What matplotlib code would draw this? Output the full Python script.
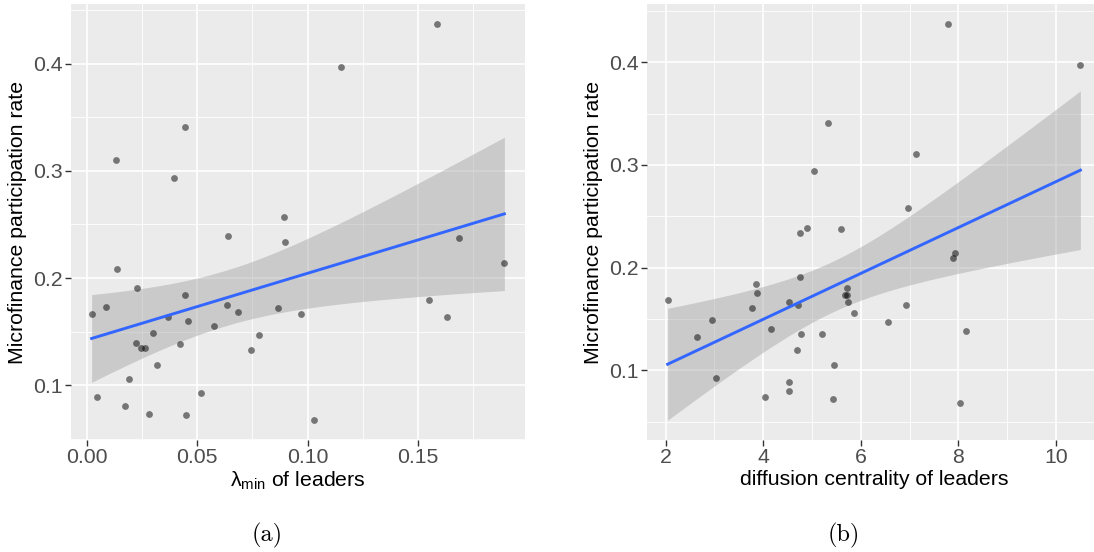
import numpy as np
from matplotlib import pyplot as plt
from matplotlib.ticker import MultipleLocator

plt.rcParams["font.family"] = ["Liberation Sans", "DejaVu Sans"]
plt.rcParams["mathtext.fontset"] = "custom"
plt.rcParams["mathtext.rm"] = "Liberation Sans"
plt.rcParams["mathtext.it"] = "Liberation Sans"

# participation rate per village
rate_a = [0.3103, 0.3407, 0.2936, 0.2389, 0.4371, 0.3970, 0.2572, 0.2336, 0.2370,
          0.1662, 0.0888, 0.1733, 0.2088, 0.0804, 0.1056, 0.1911, 0.1398, 0.1348,
          0.1348, 0.0736, 0.1491, 0.1189, 0.1637, 0.1382, 0.1842, 0.0720, 0.1603,
          0.0925, 0.1553, 0.1748, 0.1680, 0.1326, 0.1466, 0.1724, 0.1662, 0.0674,
          0.1799, 0.1634, 0.2137]
lambda_min = [0.0132, 0.0445, 0.0395, 0.0640, 0.1587, 0.1152, 0.0895, 0.0896, 0.1688,
              0.0021, 0.0045, 0.0085, 0.0134, 0.0173, 0.0191, 0.0226, 0.0224, 0.0243,
              0.0263, 0.0280, 0.0297, 0.0318, 0.0365, 0.0421, 0.0442, 0.0450, 0.0456,
              0.0516, 0.0574, 0.0636, 0.0686, 0.0745, 0.0781, 0.0866, 0.0969, 0.1030,
              0.1550, 0.1630, 0.1892]

rate_b = [0.3410, 0.2939, 0.2340, 0.2388, 0.2372, 0.4373, 0.3970, 0.3108, 0.2576,
          0.2141, 0.2096, 0.1684, 0.1328, 0.1493, 0.0929, 0.1843, 0.1752, 0.1606,
          0.1399, 0.0740, 0.1664, 0.1639, 0.1914, 0.1350, 0.1195, 0.0890, 0.0805,
          0.1353, 0.1058, 0.0721, 0.1804, 0.1732, 0.1732, 0.1664, 0.1557, 0.1470,
          0.1635, 0.1386, 0.0679]
diffusion = [5.333, 5.039, 4.752, 4.895, 5.587, 7.791, 10.501, 7.140, 6.975,
             7.934, 7.887, 2.041, 2.651, 2.945, 3.041, 3.862, 3.875, 3.780,
             4.156, 4.039, 4.526, 4.704, 4.758, 4.778, 4.696, 4.526, 4.520,
             5.209, 5.456, 5.429, 5.710, 5.676, 5.710, 5.737, 5.854, 6.559,
             6.922, 8.160, 8.043]

T_975 = 2.0262  # t quantile, 37 dof


def lm_band(x, y, grid):
    x = np.asarray(x)
    y = np.asarray(y)
    b, a = np.polyfit(x, y, 1)
    n = len(x)
    s = np.sqrt(np.sum((y - (a + b * x)) ** 2) / (n - 2))
    se = s * np.sqrt(1 / n + (grid - x.mean()) ** 2 / np.sum((x - x.mean()) ** 2))
    fit = a + b * grid
    return fit, fit - T_975 * se, fit + T_975 * se


def panel(ax, x, y, xlabel, xmaj, xmin_step):
    grid = np.linspace(min(x), max(x), 80)
    fit, lo, hi = lm_band(x, y, grid)
    ax.set_facecolor("#EBEBEB")
    ax.fill_between(grid, lo, hi, color="#999999", alpha=0.4, lw=0, zorder=2)
    ax.scatter(x, y, s=24, color="black", alpha=0.5, lw=0, zorder=3)
    ax.plot(grid, fit, color="#3366FF", lw=2.1, zorder=4)

    xr = max(x) - min(x)
    ax.set_xlim(min(x) - 0.05 * xr, max(x) + 0.05 * xr)
    ylo = min(min(y), lo.min())
    yhi = max(max(y), hi.max())
    yr = yhi - ylo
    ax.set_ylim(ylo - 0.05 * yr, yhi + 0.05 * yr)

    ax.xaxis.set_major_locator(MultipleLocator(xmaj))
    ax.xaxis.set_minor_locator(MultipleLocator(xmin_step))
    ax.yaxis.set_major_locator(MultipleLocator(0.1))
    ax.yaxis.set_minor_locator(MultipleLocator(0.05))
    ax.grid(which="major", color="white", lw=1.2, zorder=1)
    ax.grid(which="minor", color="white", lw=0.6, zorder=1)
    ax.set_axisbelow(True)
    for sp in ax.spines.values():
        sp.set_visible(False)
    ax.tick_params(which="major", length=4, width=1, color="#333333",
                   labelsize=15.3, labelcolor="#4D4D4D", pad=2)
    ax.tick_params(which="minor", length=0)
    ax.set_xlabel(xlabel, fontsize=15.3, labelpad=2)
    ax.set_ylabel("Microfinance participation rate", fontsize=15.3, labelpad=4)


fig = plt.figure(figsize=(10.94, 5.52), dpi=100)
ax1 = fig.add_axes([71 / 1094, 112 / 552, 454 / 1094, 436 / 552])
ax2 = fig.add_axes([647 / 1094, 112 / 552, 454 / 1094, 436 / 552])

panel(ax1, lambda_min, rate_a, r"$\lambda_{\mathrm{min}}$ of leaders", 0.05, 0.025)
ax1.xaxis.set_major_formatter(lambda v, p: f"{v:.2f}")
panel(ax2, diffusion, rate_b, "diffusion centrality of leaders", 2, 1)
ax2.xaxis.set_major_formatter(lambda v, p: f"{v:.0f}")
for ax in (ax1, ax2):
    ax.yaxis.set_major_formatter(lambda v, p: f"{v:.1f}")

fig.text(267.5 / 1094, 1 - 535 / 552, "(a)", family="cmr10", fontsize=17.5,
         ha="center", va="center")
fig.text(843.5 / 1094, 1 - 535 / 552, "(b)", family="cmr10", fontsize=17.5,
         ha="center", va="center")

fig.savefig("out.png", dpi=100)
